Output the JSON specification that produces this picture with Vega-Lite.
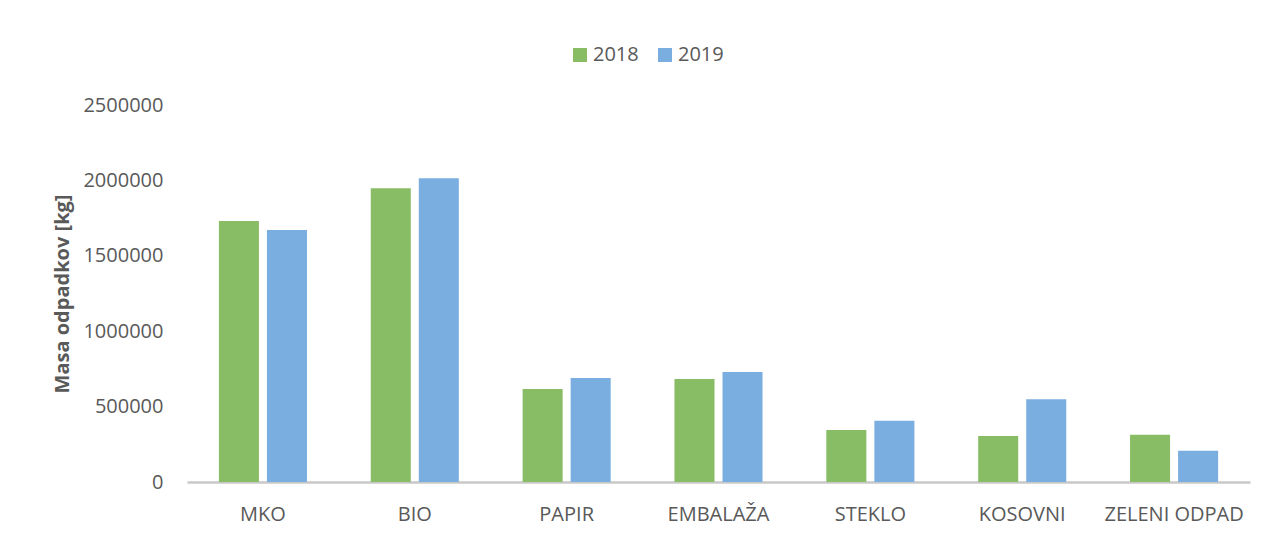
{
  "$schema": "https://vega.github.io/schema/vega-lite/v6.json",
  "autosize": {"type": "none"},
  "width": 1063,
  "height": 377,
  "padding": {"left": 187, "top": 105, "right": 18, "bottom": 52},
  "background": "white",
  "config": {
    "view": {"stroke": null},
    "font": "Open Sans",
    "axis": {"labelFont": "Open Sans", "titleFont": "Open Sans", "labelColor": "#595959", "titleColor": "#595959"}
  },
  "data": {
    "values": [
      {"kategorija": "MKO", "leto": "2018", "masa": 1731000},
      {"kategorija": "MKO", "leto": "2019", "masa": 1671000},
      {"kategorija": "BIO", "leto": "2018", "masa": 1948000},
      {"kategorija": "BIO", "leto": "2019", "masa": 2014000},
      {"kategorija": "PAPIR", "leto": "2018", "masa": 617000},
      {"kategorija": "PAPIR", "leto": "2019", "masa": 690000},
      {"kategorija": "EMBALAŽA", "leto": "2018", "masa": 683000},
      {"kategorija": "EMBALAŽA", "leto": "2019", "masa": 729000},
      {"kategorija": "STEKLO", "leto": "2018", "masa": 345000},
      {"kategorija": "STEKLO", "leto": "2019", "masa": 406000},
      {"kategorija": "KOSOVNI", "leto": "2018", "masa": 305000},
      {"kategorija": "KOSOVNI", "leto": "2019", "masa": 548000},
      {"kategorija": "ZELENI ODPAD", "leto": "2018", "masa": 314000},
      {"kategorija": "ZELENI ODPAD", "leto": "2019", "masa": 208000}
    ]
  },
  "mark": {"type": "bar"},
  "encoding": {
    "x": {
      "field": "kategorija",
      "type": "nominal",
      "sort": ["MKO", "BIO", "PAPIR", "EMBALAŽA", "STEKLO", "KOSOVNI", "ZELENI ODPAD"],
      "scale": {"paddingInner": 0.42, "paddingOuter": 0.21},
      "axis": {
        "title": null,
        "labelAngle": 0,
        "labelFontSize": 20,
        "labelPadding": 22,
        "ticks": false,
        "tickSize": 0,
        "domainColor": "#c8c8c8",
        "domainWidth": 2.5,
        "grid": false
      }
    },
    "xOffset": {
      "field": "leto",
      "type": "nominal",
      "scale": {"paddingInner": 0.1667, "paddingOuter": 0}
    },
    "y": {
      "field": "masa",
      "type": "quantitative",
      "scale": {"domain": [0, 2500000], "nice": false},
      "axis": {
        "title": "Masa odpadkov [kg]",
        "titleFontSize": 20,
        "titleFontWeight": "bold",
        "titlePadding": 10,
        "values": [0, 500000, 1000000, 1500000, 2000000, 2500000],
        "format": "d",
        "labelFontSize": 20,
        "labelPadding": 24,
        "ticks": false,
        "tickSize": 0,
        "domain": false,
        "grid": false
      }
    },
    "color": {
      "field": "leto",
      "type": "nominal",
      "scale": {"domain": ["2018", "2019"], "range": ["#88bd66", "#7aaee0"]},
      "legend": {
        "title": null,
        "orient": "none",
        "legendX": 383,
        "legendY": -60,
        "direction": "horizontal",
        "symbolType": "square",
        "symbolSize": 196,
        "symbolStrokeWidth": 0,
        "labelFontSize": 20,
        "labelColor": "#595959",
        "labelFont": "Open Sans",
        "labelOffset": 3,
        "columnPadding": 16
      }
    }
  }
}
